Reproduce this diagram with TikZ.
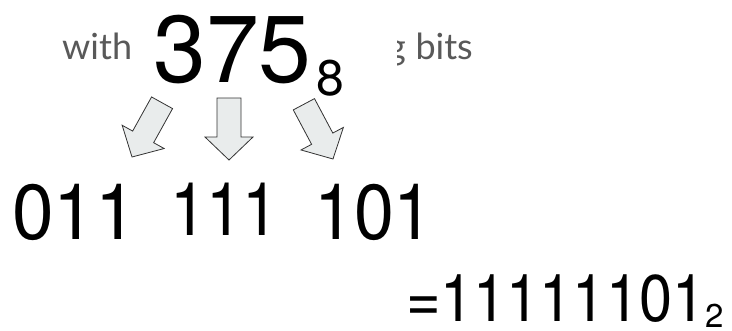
\documentclass[tikz,border=0pt]{standalone}
\usepackage{fontspec}
\usepackage{graphicx}
\setmainfont{TeX Gyre Heros}
\newfontfamily\arialfont{TeX Gyre Heros}
\newfontfamily\latofont{Lato}
\definecolor{txtgray}{HTML}{595959}
\definecolor{arrowfill}{HTML}{E9ECEC}
\definecolor{arrowline}{HTML}{333333}
\tikzset{
  big/.style={inner sep=0pt, anchor=base west, text=black},
  capt/.style={inner sep=0pt, text=txtgray, font=\latofont\fontsize{36}{36}\selectfont},
  blockarrow/.style={fill=arrowfill, draw=arrowline, line width=0.8pt, line join=miter}
}
\newcommand{\blockarrowpath}{(0,0) -- (24,-23) -- (12,-23) -- (12,-62) -- (-12,-62) -- (-12,-23) -- (-24,-23) -- cycle}
\begin{document}
\begin{tikzpicture}[x=1pt,y=-1pt]
\useasboundingbox (0,0) rectangle (732,330);
\fill[white] (0,0) rectangle (732,330);
% caption text behind the number
\node[capt, anchor=base west] (with) at (62,59) {with};
\node[capt, anchor=base east] (gfrag) at (406,59) {g};
\node[capt, anchor=base east] (bits) at (473,59) {bits};
\fill[white] (141,4) rectangle (397,80);
% octal number
\node[big, font=\arialfont\fontsize{95}{95}\selectfont] (oct) at (153,82) {375};
\node[big, font=\arialfont\fontsize{50}{50}\selectfont] (base8) at (316,95) {8};
% arrows
\begin{scope}[shift={(132,157)}, rotate=-29]
  \draw[blockarrow] \blockarrowpath;
\end{scope}
\begin{scope}[shift={(229,160)}]
  \draw[blockarrow] \blockarrowpath;
\end{scope}
\begin{scope}[shift={(333,159)}, rotate=28]
  \draw[blockarrow] \blockarrowpath;
\end{scope}
% binary groups
\node[big, font=\arialfont\fontsize{78}{78}\selectfont] (g1) at (12,239) {\scalebox{0.96}[1]{011}};
\node[big, font=\arialfont\fontsize{74}{74}\selectfont] (g2) at (170,235) {\scalebox{0.88}[1]{111}};
\node[big, font=\arialfont\fontsize{78}{78}\selectfont] (g3) at (314,239) {\scalebox{0.92}[1]{101}};
% result
\node[big, font=\arialfont\fontsize{66}{66}\selectfont] (res) at (406,321) {\scalebox{0.9}[1]{=11111101}};
\node[big, font=\arialfont\fontsize{33}{33}\selectfont] (base2) at (705,327) {2};
\end{tikzpicture}
\end{document}
